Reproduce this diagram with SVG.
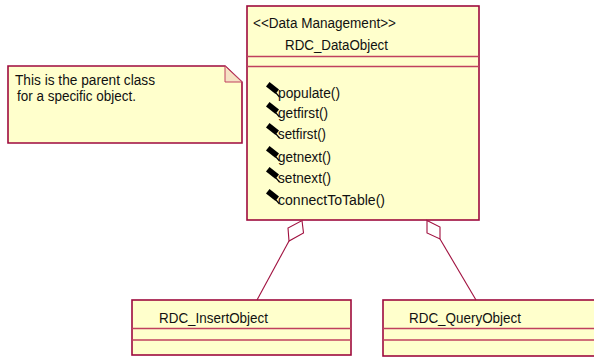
<svg xmlns="http://www.w3.org/2000/svg" width="594" height="358" viewBox="0 0 594 358">
  <style>
    .box { fill: #FFFFCC; stroke: #9E0A3E; stroke-width: 1.6; }
    .sep { stroke: #C0405E; stroke-width: 1.3; fill: none; }
    .txt { font-family: "Liberation Sans", Arial, sans-serif; font-size: 15.5px; fill: #111; }
    .note { font-size: 14px; }
    .link { stroke: #A0103F; stroke-width: 1.1; fill: none; }
    .agg { stroke: #A0103F; stroke-width: 1.1; fill: #FFFFFF; }
    .op { fill: #000; }
  </style>
  <defs>
    <!-- operation visibility marker -->
    <g id="opIcon">
      <polygon class="op" points="3.5,0 0,4.5 9.5,12 13,7.5"/>
      <line x1="10" y1="11" x2="13.5" y2="15" stroke="#000" stroke-width="1.2"/>
    </g>
  </defs>
  <rect width="594" height="358" fill="#FFFFFF"/>

  <!-- note -->
  <g id="note">
    <polygon class="box" points="8,66 225,66 242,82 242,143 8,143"/>
    <polygon points="225,66 225,82 242,82" fill="#F6E2C4" stroke="#C0405E" stroke-width="1"/>
    <text class="txt note" x="15" y="85" textLength="140" lengthAdjust="spacingAndGlyphs">This is the parent class</text>
    <text class="txt note" x="17" y="100.5" textLength="119" lengthAdjust="spacingAndGlyphs">for a specific object.</text>
  </g>

  <!-- RDC_DataObject -->
  <g id="RDC_DataObject">
    <rect class="box" x="247" y="6" width="232" height="214"/>
    <line class="sep" x1="247" y1="56.5" x2="479" y2="56.5"/>
    <line class="sep" x1="247" y1="66.5" x2="479" y2="66.5"/>
    <text class="txt" x="253" y="28" textLength="143" lengthAdjust="spacingAndGlyphs">&lt;&lt;Data Management&gt;&gt;</text>
    <text class="txt" x="285" y="50" textLength="103" lengthAdjust="spacingAndGlyphs">RDC_DataObject</text>
    <use href="#opIcon" x="266" y="82"/>
    <text class="txt" x="278" y="98" textLength="62" lengthAdjust="spacingAndGlyphs">populate()</text>
    <use href="#opIcon" x="266" y="102"/>
    <text class="txt" x="278" y="118" textLength="50" lengthAdjust="spacingAndGlyphs">getfirst()</text>
    <use href="#opIcon" x="266" y="123"/>
    <text class="txt" x="278" y="139" textLength="48" lengthAdjust="spacingAndGlyphs">setfirst()</text>
    <use href="#opIcon" x="266" y="146"/>
    <text class="txt" x="278" y="162" textLength="53" lengthAdjust="spacingAndGlyphs">getnext()</text>
    <use href="#opIcon" x="266" y="167"/>
    <text class="txt" x="278" y="183" textLength="53" lengthAdjust="spacingAndGlyphs">setnext()</text>
    <use href="#opIcon" x="266" y="189"/>
    <text class="txt" x="278" y="205" textLength="107" lengthAdjust="spacingAndGlyphs">connectToTable()</text>
  </g>

  <!-- RDC_InsertObject -->
  <g id="RDC_InsertObject">
    <rect class="box" x="132" y="300" width="219" height="55"/>
    <line class="sep" x1="132" y1="328.5" x2="351" y2="328.5"/>
    <line class="sep" x1="132" y1="340" x2="351" y2="340"/>
    <text class="txt" x="159" y="323" textLength="109" lengthAdjust="spacingAndGlyphs">RDC_InsertObject</text>
  </g>

  <!-- RDC_QueryObject -->
  <g id="RDC_QueryObject">
    <rect class="box" x="383" y="300" width="219" height="56"/>
    <line class="sep" x1="383" y1="328.5" x2="602" y2="328.5"/>
    <line class="sep" x1="383" y1="340" x2="602" y2="340"/>
    <text class="txt" x="409" y="323" textLength="112" lengthAdjust="spacingAndGlyphs">RDC_QueryObject</text>
  </g>

  <!-- aggregation connectors -->
  <g id="connectors">
    <polygon class="agg" points="302,220.5 303.5,233 289,241 288,228"/>
    <line class="link" x1="289" y1="241" x2="257" y2="300"/>
    <polygon class="agg" points="427,220.5 440,227 440,239 427,233"/>
    <line class="link" x1="440" y1="239" x2="476" y2="300"/>
  </g>
</svg>
